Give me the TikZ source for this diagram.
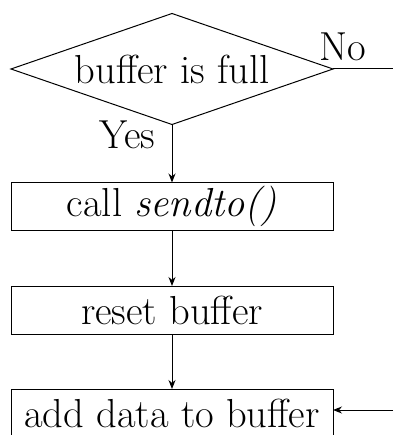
\documentclass[tikz,border=0pt]{standalone}
\usepackage{fontspec}
\usetikzlibrary{shapes.geometric,arrows.meta}
\begin{document}
\begin{tikzpicture}[x=1pt,y=-1pt,
  every node/.style={font=\fontsize{40.5}{44}\selectfont},
  decision/.style={draw,diamond,aspect=2.9,minimum width=322pt,minimum height=111pt,inner sep=0pt,outer sep=0pt,line width=1pt},
  stepbox/.style={draw,rectangle,minimum width=322pt,minimum height=48pt,inner sep=0pt,outer sep=0pt,line width=1pt},
  flow/.style={line width=1pt,-{Stealth[length=9pt,width=7pt]}},
  plain/.style={line width=1pt},
  lbl/.style={inner sep=0pt}]
\useasboundingbox (0,0) rectangle (393,435);
\node[decision] (d) at (172,69) {buffer is full};
\node[stepbox] (b1) at (172,206.5) {call \textit{sendto()}};
\node[stepbox] (b2) at (172,310) {reset buffer};
\node[stepbox] (b3) at (172,413) {add data to buffer};
\coordinate (noend) at (393,69);
\coordinate (inend) at (393,410);
\draw[plain] (d.east) -- (noend);
\node[lbl] (no) at (343,47) {No};
\node[lbl] (yes) at (127,135) {Yes};
\draw[flow] (d.south) -- (b1.north);
\draw[flow] (b1.south) -- (b2.north);
\draw[flow] (b2.south) -- (b3.north);
\draw[flow] (inend) -- (inend -| b3.east);
\end{tikzpicture}
\end{document}
